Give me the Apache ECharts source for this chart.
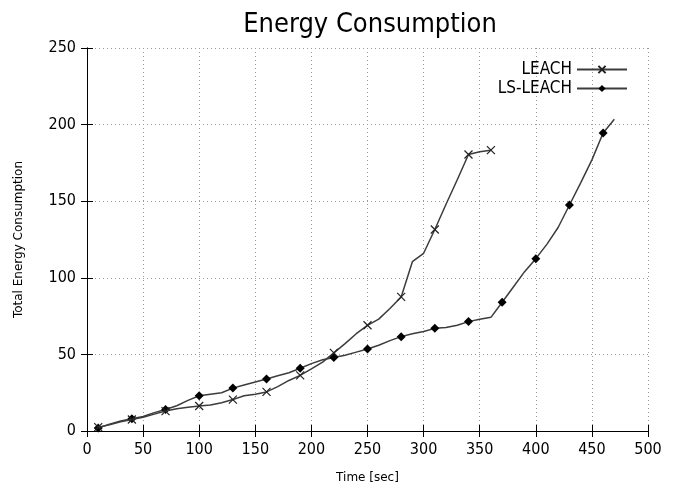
<!DOCTYPE html>
<html><head><meta charset="utf-8">
<script src="https://cdn.jsdelivr.net/npm/echarts@6/dist/echarts.min.js"></script>
<style>html,body{margin:0;padding:0;background:#fff}#c{width:678px;height:489px}</style>
</head><body><div id="c"></div>
<script>
var leachTime = [10,20,30,40,50,60,70,80,90,100,110,120,130,140,150,160,170,180,190,200,210,220,230,240,250,260,270,280,290,300,310,320,330,340,350,360];
var leachEnergy = [2.5,4,6,7.5,9,11,13,14.5,15.5,16.3,17,18.5,20.5,23,24,25.5,29,33,36.3,40.5,45,51,57,63.5,69,73,80,87.5,110.5,116,131.5,148,164,180.5,182.3,183.3];
var lsTime = [10,20,30,40,50,60,70,80,90,100,110,120,130,140,150,160,170,180,190,200,210,220,230,240,250,260,270,280,290,300,310,320,330,340,350,360,370,380,390,400,410,420,430,440,450,460,470];
var lsEnergy = [2,4.5,6.5,8,9.5,12,14,16.5,20,23,24,25,28,30,32,34,36,38,41,44,46.5,48,49.5,51.5,53.5,56,59,61.6,63.5,65,67,67.5,69,71.4,73,74.2,84,94,104,112.5,122,133,147.5,162,177,194.5,203.5];
var leachMarkerTimes = [10,40,70,100,130,160,190,220,250,280,310,340,360];
var lsMarkerTimes = [10,40,70,100,130,160,190,220,250,280,310,340,370,400,430,460];
var xTicks = [0,50,100,150,200,250,300,350,400,450,500];
var yTicks = [0,50,100,150,200,250];
var seriesNames = ['LEACH','LS-LEACH'];

var crossPath = 'path://M0,0L10,10M10,0L0,10';
function build(xs, ys, marks){
  return xs.map(function(x,i){
    var item = {value:[x, ys[i]]};
    if (marks.indexOf(x) < 0) item.symbol = 'none';
    return item;
  });
}
var cfont = '"DejaVu Sans Condensed","DejaVu Sans",sans-serif';
var font = '"DejaVu Sans",sans-serif';
var chart = echarts.init(document.getElementById('c'), null, {renderer:'canvas'});
var gridLine = {show:true, lineStyle:{color:'#9a9a9a', type:[1,3], width:1}};
chart.setOption({
  animation:false,
  backgroundColor:'#fff',
  title:{text:'Energy Consumption', left:365, top:6, textAlign:'center',
    textStyle:{fontFamily:cfont, fontSize:27, fontWeight:'normal', color:'#000'}},
  legend:{
    right:45, top:56, orient:'vertical', align:'right', itemGap:2,
    itemWidth:50, itemHeight:9,
    textStyle:{fontFamily:cfont, fontSize:17, color:'#000'},
    data:[{name:seriesNames[0]}, {name:seriesNames[1]}]
  },
  grid:{left:87, right:30, top:48, bottom:58},
  xAxis:[{
    type:'value', min:0, max:500, interval:50, position:'bottom',
    name:'Time [sec]', nameLocation:'middle', nameGap:41,
    nameTextStyle:{fontFamily:font, fontSize:12, color:'#000'},
    axisLine:{show:true, lineStyle:{color:'#000', width:1}},
    axisTick:{show:true, inside:true, length:6, lineStyle:{color:'#000'}},
    axisLabel:{fontFamily:cfont, fontSize:16, color:'#000', margin:11,
      formatter:function(v){return xTicks.indexOf(v)>=0 ? String(v) : '';}},
    splitLine:gridLine
  },{
    type:'value', min:0, max:500, interval:50, position:'top',
    axisLine:{show:true, lineStyle:{color:'#000', width:1}},
    axisTick:{show:true, inside:true, length:6, lineStyle:{color:'#000'}},
    axisLabel:{show:false}, splitLine:{show:false}
  }],
  yAxis:[{
    type:'value', min:0, max:250, interval:50, position:'left',
    name:'Total Energy Consumption', nameLocation:'middle', nameGap:62, nameRotate:90,
    nameTextStyle:{fontFamily:font, fontSize:12, color:'#000'},
    axisLine:{show:true, lineStyle:{color:'#000', width:1}},
    axisTick:{show:true, inside:true, length:6, lineStyle:{color:'#000'}},
    axisLabel:{fontFamily:cfont, fontSize:16, color:'#000', margin:11,
      formatter:function(v){return yTicks.indexOf(v)>=0 ? String(v) : '';}},
    splitLine:gridLine
  },{
    type:'value', min:0, max:250, interval:50, position:'right',
    axisLine:{show:true, lineStyle:{color:'#000', width:1}},
    axisTick:{show:true, inside:true, length:6, lineStyle:{color:'#000'}},
    axisLabel:{show:false}, splitLine:{show:false}
  }],
  series:[{
    name:seriesNames[0], type:'line', xAxisIndex:0, yAxisIndex:0,
    symbol:crossPath, symbolSize:8, showSymbol:true,
    lineStyle:{color:'#3c3c3c', width:1.5},
    itemStyle:{color:'rgba(0,0,0,0)', borderColor:'#222', borderWidth:1.2},
    data:build(leachTime, leachEnergy, leachMarkerTimes), z:3
  },{
    name:seriesNames[1], type:'line', xAxisIndex:0, yAxisIndex:0,
    symbol:'diamond', symbolSize:9, showSymbol:true,
    lineStyle:{color:'#3c3c3c', width:1.5},
    itemStyle:{color:'#000', borderColor:'#000', borderWidth:0},
    data:build(lsTime, lsEnergy, lsMarkerTimes), z:2
  }]
});
</script></body></html>
